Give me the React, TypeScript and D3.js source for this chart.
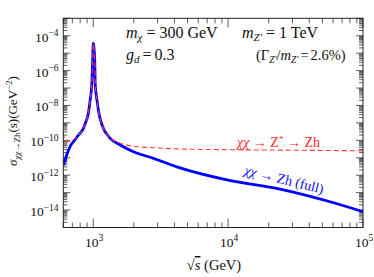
import * as d3 from 'd3';

// sqrt(s) in GeV, cross section in GeV^-2
const fullSqrtS = [600, 621, 656, 676, 714, 757, 801, 843, 880, 918, 945, 975, 991, 1000, 1026, 1035, 1071, 1098, 1127, 1206, 1259, 1336, 1585, 1989, 2797, 4169, 10000, 24270, 57000, 100000];
const fullSigma = [3.8e-12, 8.5e-12, 2.75e-11, 4.7e-11, 8.5e-11, 1.55e-10, 2.6e-10, 4.5e-10, 1.1e-9, 3.2e-9, 1.6e-8, 1.5e-7, 4.1e-6, 3.6e-5, 4.1e-6, 1.5e-7, 1.6e-8, 4.2e-9, 1.65e-9, 3.9e-10, 2.3e-10, 1.3e-10, 5.4e-11, 2.2e-11, 9.3e-12, 3.0e-12, 5.2e-13, 1.6e-13, 3.0e-14, 8.1e-15];

const zstarSqrtS = [600, 615, 631, 656, 676, 714, 757, 801, 843, 880, 918, 945, 975, 991, 1000, 1026, 1035, 1071, 1098, 1127, 1206, 1259, 1336, 1406, 1585, 1777, 2345, 3133, 4405, 10000, 34100, 100000];
const zstarSigma = [2.6e-10, 1.04e-10, 8.5e-11, 8.5e-11, 9.1e-11, 1.1e-10, 1.55e-10, 2.6e-10, 4.5e-10, 1.1e-9, 3.2e-9, 1.6e-8, 1.5e-7, 4.1e-6, 3.3e-5, 4.1e-6, 1.5e-7, 1.6e-8, 4.2e-9, 1.65e-9, 3.9e-10, 2.3e-10, 1.3e-10, 1.05e-10, 6.9e-11, 5.3e-11, 4.1e-11, 3.6e-11, 3.2e-11, 2.9e-11, 2.7e-11, 2.5e-11];

const xLabelExponents = [3, 4, 5];
const yLabelExponents = [-4, -6, -8, -10, -12, -14];

const serif = '"Liberation Serif", "DejaVu Serif", serif';

export default function App() {
    const width = 374;
    const height = 277;
    const left = 63.3;
    const right = 363;
    const top = 18.3;
    const bottom = 227.5;

    const x = d3.scaleLog().domain([600, 1e5]).range([left, right]);
    const y = d3.scaleLog().domain([1e-15, 1e-3]).range([bottom, top]);

    const line = d3
        .line<[number, number]>()
        .x((d) => x(d[0]))
        .y((d) => y(d[1]))
        .curve(d3.curveMonotoneX);

    const fullPath = line(fullSqrtS.map((s, i) => [s, fullSigma[i]]))!;
    const zstarPath = line(zstarSqrtS.map((s, i) => [s, zstarSigma[i]]))!;

    // log ticks: major at decades, minor at 2..9
    const xTicks: { v: number; major: boolean }[] = [];
    for (let n = 2; n <= 5; n++) {
        for (let k = 1; k <= 9; k++) {
            const v = k * Math.pow(10, n);
            if (v >= 600 && v <= 1e5) xTicks.push({ v, major: k === 1 });
        }
    }
    const yTicks: { v: number; major: boolean }[] = [];
    for (let n = -15; n <= -3; n++) {
        for (let k = 1; k <= 9; k++) {
            const v = k * Math.pow(10, n);
            if (v >= 1e-15 && v <= 1e-3 * 1.0001) yTicks.push({ v, major: k === 1 });
        }
    }

    const tickColor = '#333';

    return (
        <svg width={width} height={height} style={{ position: 'absolute', left: 0, top: 0 }} fontFamily={serif}>
            <defs>
                <clipPath id="plotArea">
                    <rect x={left} y={top} width={right - left} height={bottom - top} />
                </clipPath>
            </defs>
            <rect x={0} y={0} width={width} height={height} fill="#fff" />

            {/* ticks */}
            <g stroke={tickColor} strokeWidth={0.8}>
                {xTicks.map((t, i) => {
                    const px = x(t.v);
                    const len = t.major ? 9 : 5;
                    return (
                        <g key={'xt' + i}>
                            <line x1={px} x2={px} y1={bottom} y2={bottom - len} />
                            <line x1={px} x2={px} y1={top} y2={top + len} />
                        </g>
                    );
                })}
                {yTicks.map((t, i) => {
                    const py = y(t.v);
                    const len = t.major ? 7 : 4;
                    return (
                        <g key={'yt' + i}>
                            <line x1={left} x2={left + len} y1={py} y2={py} />
                            <line x1={right} x2={right - len} y1={py} y2={py} />
                        </g>
                    );
                })}
            </g>

            {/* curves */}
            <g clipPath="url(#plotArea)">
                <path d={fullPath} fill="none" stroke="#0000ff" strokeWidth={2.8} strokeLinejoin="round" />
                <path d={zstarPath} fill="none" stroke="#ff3a3a" strokeWidth={1.1} strokeDasharray="5,3" />
            </g>

            <rect x={left} y={top} width={right - left} height={bottom - top} fill="none" stroke="#222" strokeWidth={1} />

            {/* x tick labels */}
            {xLabelExponents.map((e) => (
                <text key={'xl' + e} x={x(Math.pow(10, e)) + 1} y={246.7} textAnchor="middle" fontSize={13.5} fill="#111">
                    10
                    <tspan dy={-5.5} fontSize={9.5}>
                        {e}
                    </tspan>
                </text>
            ))}

            {/* y tick labels */}
            {yLabelExponents.map((e) => (
                <text key={'yl' + e} x={58.5} y={y(Math.pow(10, e)) + 6} textAnchor="end" fontSize={13.5} fill="#111">
                    10
                    <tspan dy={-5.5} fontSize={9.5}>
                        {'\u2212' + Math.abs(e)}
                    </tspan>
                </text>
            ))}

            {/* axis titles */}
            <text x={214} y={270} textAnchor="middle" fontSize={14.5} fill="#111">
                √<tspan fontStyle="italic" style={{ textDecoration: 'overline' }}>s</tspan> (GeV)
            </text>
            <text transform="translate(17,121) rotate(-90)" textAnchor="middle" fontSize={13} fill="#111">
                <tspan fontStyle="italic">σ</tspan>
                <tspan dy={3} fontSize={9} fontStyle="italic">χχ</tspan>
                <tspan fontSize={9}>→Zh</tspan>
                <tspan dy={-3}>(s)(GeV</tspan>
                <tspan dy={-5} fontSize={9}>−2</tspan>
                <tspan dy={5}>)</tspan>
            </text>

            {/* parameters */}
            <g fontSize={16} fill="#111">
                <text x={126} y={37.5}>
                    <tspan fontStyle="italic">m</tspan>
                    <tspan dy={3} fontSize={11} fontStyle="italic">χ</tspan>
                    <tspan dy={-3} dx={4}>=</tspan>
                    <tspan dx={4}>300 GeV</tspan>
                </text>
                <text x={242} y={37.5}>
                    <tspan fontStyle="italic">m</tspan>
                    <tspan dy={3} fontSize={11} fontStyle="italic">Z'</tspan>
                    <tspan dy={-3} dx={4}>=</tspan>
                    <tspan dx={4}>1 TeV</tspan>
                </text>
                <text x={126} y={59.5}>
                    <tspan fontStyle="italic">g</tspan>
                    <tspan dy={3} fontSize={11} fontStyle="italic">d</tspan>
                    <tspan dy={-3} dx={3}>=</tspan>
                    <tspan dx={3}>0.3</tspan>
                </text>
                <text x={256} y={59.5} fontSize={14.5}>
                    (Γ<tspan dy={3} fontSize={9.5} fontStyle="italic">Z'</tspan>
                    <tspan dy={-3}>/</tspan>
                    <tspan fontStyle="italic">m</tspan>
                    <tspan dy={3} fontSize={9.5} fontStyle="italic">Z'</tspan>
                    <tspan dy={-3} dx={2}>=</tspan>
                    <tspan dx={2}>2.6%)</tspan>
                </text>
            </g>

            {/* curve labels */}
            <text x={237} y={147} fontSize={14} fill="#ff2a2a">
                <tspan fontStyle="italic">χχ</tspan> → Z<tspan dy={-5} fontSize={9}>*</tspan>
                <tspan dy={5}> → Zh</tspan>
            </text>
            <text transform="translate(283,184) rotate(14)" textAnchor="middle" fontSize={14} fill="#1010ee">
                <tspan fontStyle="italic">χχ</tspan> → Zh (full)
            </text>
        </svg>
    );
}
